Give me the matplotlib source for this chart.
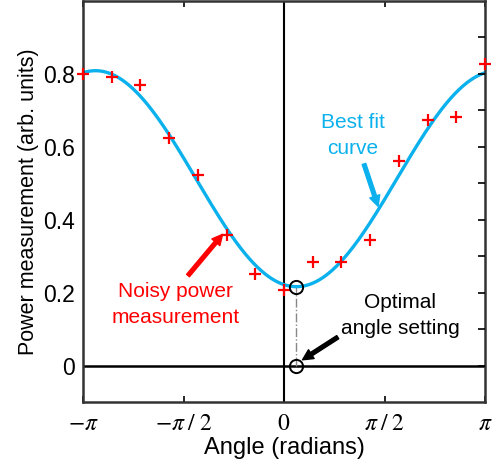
import numpy as np
import matplotlib
matplotlib.use("Agg")
import matplotlib.pyplot as plt

# measured angles: 15 evenly spaced steps across one period
angle_step = 2 * np.pi / 14
angles = -np.pi + angle_step * np.arange(15)
power = [0.801, 0.791, 0.770, 0.625, 0.522, 0.358, 0.251, 0.206,
         0.284, 0.284, 0.345, 0.562, 0.673, 0.682, 0.826]

x_ticks = [-np.pi, -np.pi / 2, 0, np.pi / 2, np.pi]
x_labels = [r"$-\pi$", r"$-\pi\;/\;2$", r"$0$", r"$\pi\;/\;2$", r"$\pi$"]
y_ticks = [0, 0.2, 0.4, 0.6, 0.8]
y_labels = ["0", "0.2", "0.4", "0.6", "0.8"]

BLUE = "#0BB1EC"
RED = "#FF0000"
ARROW = "simple,head_length=0.75,head_width=0.75,tail_width=0.27"

plt.rcParams["font.family"] = ["Liberation Sans", "DejaVu Sans"]
plt.rcParams["mathtext.fontset"] = "stix"

# least-squares fit: p(x) = a + b cos x + c sin x
A = np.column_stack([np.ones_like(angles), np.cos(angles), np.sin(angles)])
coef, *_ = np.linalg.lstsq(A, np.asarray(power), rcond=None)
xf = np.linspace(-np.pi, np.pi, 400)
yf = coef[0] + coef[1] * np.cos(xf) + coef[2] * np.sin(xf)
x_opt = np.arctan2(-coef[2], -coef[1])
y_opt = coef[0] - np.hypot(coef[1], coef[2])

fig = plt.figure(figsize=(5.0, 4.67), dpi=100)
ax = fig.add_axes([0.166, 0.139, 0.804, 0.859])

ax.axhline(0, color="black", lw=1.8, zorder=1)
ax.axvline(0, color="black", lw=1.5, zorder=1)
ax.plot(xf, yf, color=BLUE, lw=2.4, zorder=2)
ax.plot(angles, power, "+", color=RED, ms=8.5, mew=1.6, zorder=3, clip_on=False)
ax.plot([x_opt, x_opt], [0, y_opt], color="#888888", lw=1.0, ls="-.", zorder=1)
ax.plot([x_opt, x_opt], [0, y_opt], "o", mfc="none", mec="black", ms=9.5, mew=1.4, zorder=4)

ax.set_xlim(-np.pi, np.pi)
ax.set_ylim(-0.1, 1.0)
ax.set_xticks(x_ticks)
ax.set_xticklabels(x_labels, fontsize=17)
ax.set_yticks(y_ticks)
ax.set_yticklabels(y_labels, fontsize=16.5)
ax.tick_params(axis="x", direction="in", length=4, width=1.2, top=True, pad=8)
ax.tick_params(axis="y", direction="in", length=0, pad=6)
for s in ax.spines.values():
    s.set_linewidth(1.8)
    s.set_color("#333333")

# mirrored right-side ticks at 0.1 steps
ax2 = ax.twinx()
ax2.set_ylim(ax.get_ylim())
ax2.set_yticks(np.arange(0, 10) / 10)
ax2.tick_params(axis="y", direction="in", length=5, width=1.2, labelright=False)
for s in ax2.spines.values():
    s.set_visible(False)

ax.set_xlabel("Angle (radians)", fontsize=17, labelpad=1)
ax.set_ylabel("Power measurement (arb. units)", fontsize=15.5, labelpad=3)

ax.text(-1.70, 0.168, "Noisy power\nmeasurement", color=RED, fontsize=15,
        ha="center", va="center", linespacing=1.45)
ax.annotate("", xy=(-0.96, 0.36), xytext=(-1.50, 0.247),
            arrowprops=dict(arrowstyle=ARROW, color=RED, shrinkA=0, shrinkB=0))

ax.text(1.08, 0.63, "Best fit\ncurve", color=BLUE, fontsize=15, ha="center", va="center",
        linespacing=1.45)
ax.annotate("", xy=(1.47, 0.437), xytext=(1.25, 0.553),
            arrowprops=dict(arrowstyle=ARROW, color=BLUE, shrinkA=0, shrinkB=0))

ax.text(1.82, 0.138, "Optimal\nangle setting", color="black", fontsize=15, ha="center",
        va="center", linespacing=1.45)
ax.annotate("", xy=(0.29, 0.016), xytext=(0.84, 0.078),
            arrowprops=dict(arrowstyle=ARROW, color="black", shrinkA=0, shrinkB=0))

fig.savefig("out.png", dpi=100)
